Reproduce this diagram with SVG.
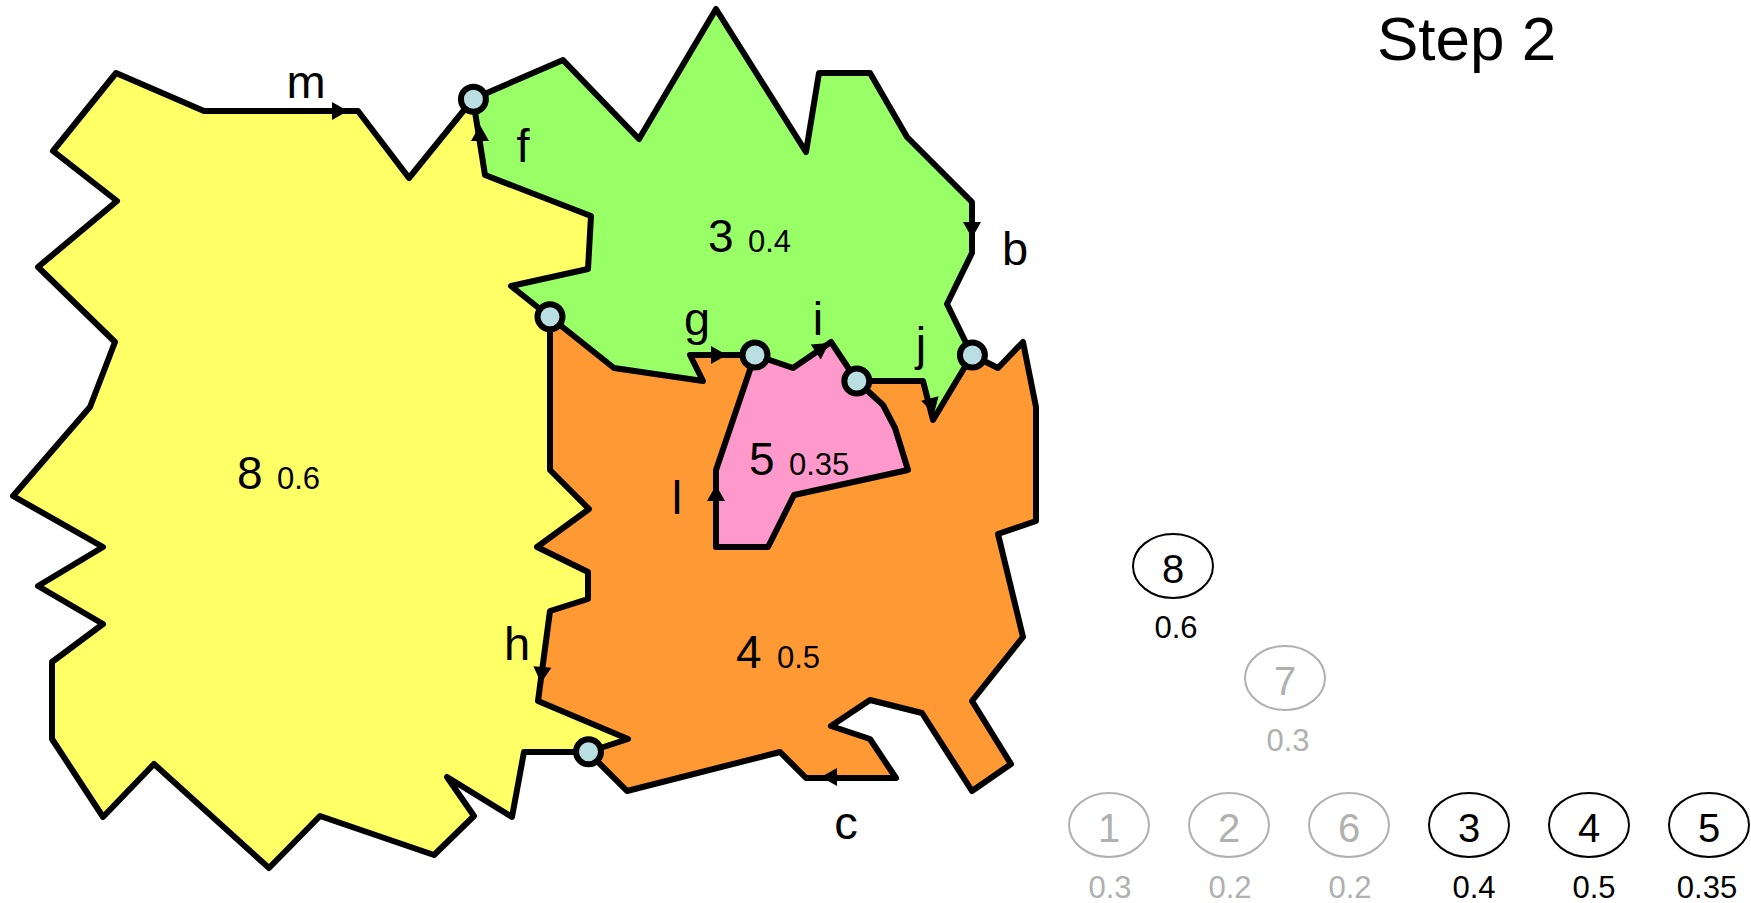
<svg xmlns="http://www.w3.org/2000/svg" width="1751" height="903" viewBox="0 0 1751 903">
<style>
text{font-family:"Liberation Sans",Arial,sans-serif;fill:#000}
.big{font-size:46px}
.sm{font-size:31px}
.lb{font-size:47px;text-anchor:middle}
.c{text-anchor:middle}
.edge{fill:none;stroke:#000;stroke-width:6;stroke-linejoin:round;stroke-linecap:round}
.v{fill:#b9dfe3;stroke:#000;stroke-width:6}
.t{fill:#fff;stroke:#000;stroke-width:2}
.off .t{stroke:#b0b0b0}
.off text{fill:#b0b0b0}
</style>
<defs><polygon id="ah" points="0,0 -16,-9 -16,9" fill="#000"/></defs>
<g id="region-8"><polygon fill="#ffff66" points="116,73 204,111 358,111 409,178 473,99 485,175 591,216 588,269 511,286 550,317 550,470 589,509 537,547 588,572 588,599 550,611 538,701 628,739 588,752 524,752 512,817 447,777 474,816 434,855 320,816 269,868 154,764 103,817 52,739 52,662 103,624 38,586 103,547 13,496 90,407 115,342 38,267 117,201 53,151"/>
<text class="big" x="237" y="489">8</text><text class="sm" x="277" y="489">0.6</text></g>
<g id="region-3"><polygon fill="#99ff66" points="473,99 563,60 639,139 716,9 806,152 819,73 870,73 907,137 972,202 972,253 947,304 972,355 933,420 923,381 857,381 831,342 793,368 755,355 690,355 703,381 614,368 550,317 511,286 588,269 591,216 485,175"/>
<text class="big" x="708" y="252">3</text><text class="sm" x="748" y="252">0.4</text></g>
<g id="region-4"><polygon fill="#ff9933" points="550,317 614,368 703,381 690,355 755,355 857,381 923,381 933,420 972,355 998,368 1023,342 1036,407 1036,521 998,534 1023,637 972,701 1011,764 972,791 922,713 870,700 831,726 870,739 896,778 806,778 780,752 627,791 588,752 628,739 538,701 550,611 588,599 588,572 537,547 589,509 550,470"/>
<text class="big" x="736" y="668">4</text><text class="sm" x="777" y="668">0.5</text></g>
<g id="region-5"><polygon fill="#ff99cc" points="755,355 793,368 831,342 857,381 883,405 895,428 908,470 794,495 768,547 716,547 716,470"/>
<text class="big" x="749" y="475">5</text><text class="sm" x="789" y="475">0.35</text></g>
<g id="connectors">
<path id="edge-m" class="edge" d="M588 752H524L512 817 447 777 474 816 434 855 320 816 269 868 154 764 103 817 52 739V662L103 624 38 586 103 547 13 496 90 407 115 342 38 267 117 201 53 151 116 73 204 111H358L409 178 473 99"/>
<path id="edge-f" class="edge" d="M550 317 511 286 588 269 591 216 485 175 473 99"/>
<path id="edge-b" class="edge" d="M473 99 563 60 639 139 716 9 806 152 819 73H870L907 137 972 202V253L947 304 972 355"/>
<path id="edge-g" class="edge" d="M550 317 614 368 703 381 690 355H755"/>
<path id="edge-i" class="edge" d="M755 355 793 368 831 342 857 381"/>
<path id="edge-j" class="edge" d="M857 381H923L933 420 972 355"/>
<path id="edge-l" class="edge" d="M857 381 883 405 895 428 908 470 794 495 768 547H716V470L755 355"/>
<path id="edge-h" class="edge" d="M550 317V470L589 509 537 547 588 572V599L550 611 538 701 628 739 588 752"/>
<path id="edge-c" class="edge" d="M972 355 998 368 1023 342 1036 407V521L998 534 1023 637 972 701 1011 764 972 791 922 713 870 700 831 726 870 739 896 778H806L780 752 627 791 588 752"/>
<use href="#ah" transform="translate(348 111)"/>
<use href="#ah" transform="translate(480 125) rotate(-90)"/>
<use href="#ah" transform="translate(972 238) rotate(90)"/>
<use href="#ah" transform="translate(727 355)"/>
<use href="#ah" transform="translate(829 343) rotate(-34)"/>
<use href="#ah" transform="translate(934 414) rotate(75)"/>
<use href="#ah" transform="translate(541 683) rotate(95)"/>
<use href="#ah" transform="translate(716 485) rotate(-90)"/>
<use href="#ah" transform="translate(821 777) rotate(180)"/>
</g>
<g id="vertices">
<circle class="v" cx="473.4" cy="99.3" r="12.5"/>
<circle class="v" cx="550" cy="316.7" r="12.5"/>
<circle class="v" cx="755" cy="355" r="12.5"/>
<circle class="v" cx="856.8" cy="381" r="12.5"/>
<circle class="v" cx="972.4" cy="355" r="12.5"/>
<circle class="v" cx="588.5" cy="751.7" r="12.5"/>
</g>
<g id="edge-labels">
<text class="lb" x="306" y="98">m</text>
<text class="lb" x="523" y="162">f</text>
<text class="lb" x="1015" y="265">b</text>
<text class="lb" x="697" y="335">g</text>
<text class="lb" x="818" y="335">i</text>
<text class="lb" x="921" y="360">j</text>
<text class="lb" x="517" y="660">h</text>
<text class="lb" x="677" y="514">l</text>
<text class="lb" x="846" y="839">c</text>
</g>
<text id="title" x="1377" y="60" font-size="62">Step 2</text>
<g id="tree-8"><ellipse class="t" cx="1173" cy="566" rx="40" ry="32"/><text class="c" x="1173" y="583" font-size="40">8</text><text class="c sm" x="1176" y="638">0.6</text></g>
<g id="tree-7" class="off"><ellipse class="t" cx="1285" cy="678" rx="40" ry="32"/><text class="c" x="1285" y="695" font-size="40">7</text><text class="c sm" x="1288" y="751">0.3</text></g>
<g id="tree-1" class="off"><ellipse class="t" cx="1109" cy="825" rx="40" ry="32"/><text class="c" x="1109" y="842" font-size="40">1</text><text class="c sm" x="1110" y="898">0.3</text></g>
<g id="tree-2" class="off"><ellipse class="t" cx="1229" cy="825" rx="40" ry="32"/><text class="c" x="1229" y="842" font-size="40">2</text><text class="c sm" x="1230" y="898">0.2</text></g>
<g id="tree-6" class="off"><ellipse class="t" cx="1349" cy="825" rx="40" ry="32"/><text class="c" x="1349" y="842" font-size="40">6</text><text class="c sm" x="1350" y="898">0.2</text></g>
<g id="tree-3"><ellipse class="t" cx="1469" cy="825" rx="40" ry="32"/><text class="c" x="1469" y="842" font-size="40">3</text><text class="c sm" x="1474" y="898">0.4</text></g>
<g id="tree-4"><ellipse class="t" cx="1589" cy="825" rx="40" ry="32"/><text class="c" x="1589" y="842" font-size="40">4</text><text class="c sm" x="1594" y="898">0.5</text></g>
<g id="tree-5"><ellipse class="t" cx="1709" cy="825" rx="40" ry="32"/><text class="c" x="1709" y="842" font-size="40">5</text><text class="c sm" x="1707" y="898">0.35</text></g>
</svg>
